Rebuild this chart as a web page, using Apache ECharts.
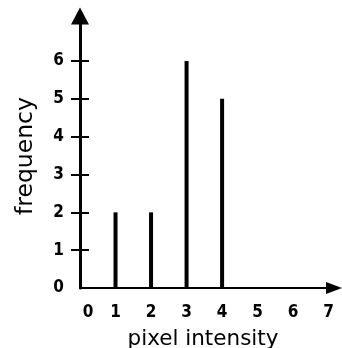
<!DOCTYPE html>
<html>
<head>
<meta charset="utf-8">
<script src="https://cdn.jsdelivr.net/npm/echarts@6/dist/echarts.min.js"></script>
<style>html,body{margin:0;padding:0;background:#fff}#c{width:342px;height:348px}</style>
</head>
<body>
<div id="c"></div>
<script>
const intensities = [1, 2, 3, 4];
const frequencies = [2, 2, 6, 5];
const xTickLabels = [0, 1, 2, 3, 4, 5, 6, 7];
const yTickLabels = [0, 1, 2, 3, 4, 5, 6];
const yTicks = [1, 2, 3, 4, 5, 6];

const chart = echarts.init(document.getElementById('c'));
const tickFont = {color: '#000', fontFamily: 'Liberation Sans Narrow, DejaVu Sans Condensed, sans-serif', fontWeight: 'bold', fontSize: 17};
chart.setOption({
  animation: false,
  grid: [
    {left: 80, right: 8, top: 16, bottom: 60, containLabel: false, outerBoundsMode: 'none'},
    {left: 80, right: 8, top: 61, bottom: 60, containLabel: false, outerBoundsMode: 'none'}
  ],
  xAxis: [{
    type: 'value', min: 0, max: 7.15,
    name: 'pixel intensity', nameLocation: 'middle', nameGap: 40,
    nameTextStyle: {color: '#000', fontFamily: 'DejaVu Sans', fontSize: 21.5, padding: [0, 8, 0, 0]},
    axisLine: {lineStyle: {color: '#000', width: 2}, symbol: ['none', 'triangle'], symbolSize: [12, 16]},
    axisTick: {show: false},
    splitLine: {show: false},
    axisLabel: Object.assign({
      customValues: xTickLabels, margin: 16,
      formatter: v => v === 0 ? '{z|0}' : String(v),
      rich: {z: Object.assign({padding: [0, 0, 0, 16]}, tickFont)}
    }, tickFont)
  }, {
    gridIndex: 1, type: 'value', min: 0, max: 7.15, show: false
  }],
  yAxis: [{
    type: 'value', min: 0, max: 7.19,
    name: 'frequency', nameLocation: 'middle', nameGap: 42,
    nameTextStyle: {color: '#000', fontFamily: 'DejaVu Sans', fontSize: 23.5, padding: [0, 8, 0, 0]},
    axisLine: {lineStyle: {color: '#000', width: 3}, symbol: ['none', 'triangle'], symbolSize: [18, 17]},
    axisTick: {show: true, customValues: yTicks, length: 9, lineStyle: {color: '#000', width: 2}},
    splitLine: {show: false},
    axisLabel: Object.assign({customValues: yTickLabels, margin: 16}, tickFont)
  }, {
    gridIndex: 1, type: 'value', min: 0, max: 6, interval: 1, position: 'left', offset: -9,
    axisLine: {show: true, lineStyle: {color: 'rgba(0,0,0,0)', width: 1}},
    axisTick: {show: true, length: 9, lineStyle: {color: '#000', width: 2}},
    axisLabel: {show: true, formatter: () => ''},
    splitLine: {show: false}
  }],
  series: [{
    type: 'bar',
    barWidth: 4,
    itemStyle: {color: '#000'},
    data: intensities.map((x, i) => [x, frequencies[i]])
  }]
});
</script>
</body>
</html>
